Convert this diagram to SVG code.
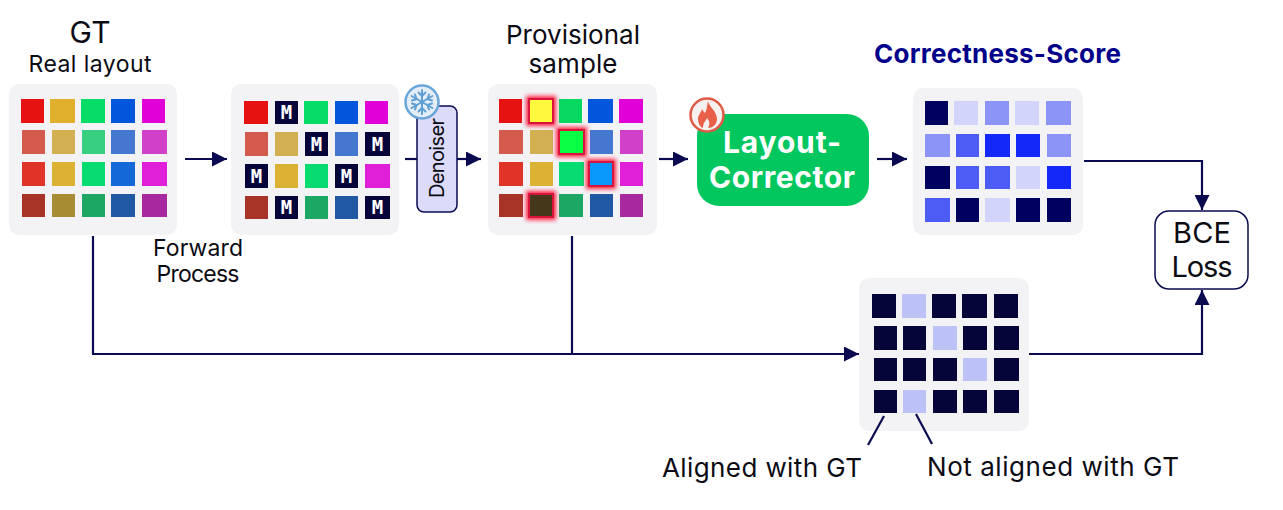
<svg xmlns="http://www.w3.org/2000/svg" width="1283" height="510" viewBox="0 0 1283 510">
<style>
text{font-family:"Inter","Noto Sans",sans-serif;fill:#0b0b14;text-anchor:middle}
.t22{font-size:23px}.t30{font-size:30px}.t28{font-size:29px}.t26{font-size:26px}
.panel{fill:#f3f3f6}
.a1{fill:#e61212}.a2{fill:#e0b02c}.a3{fill:#06dc66}.a4{fill:#0256dc}.a5{fill:#e000d8}
.b1{fill:#d45a4e}.b2{fill:#d2b052}.b3{fill:#38d080}.b4{fill:#4478d0}.b5{fill:#d040c8}
.c1{fill:#e03428}.c2{fill:#dcb234}.c3{fill:#06dc70}.c4{fill:#1468d8}.c5{fill:#e020d8}
.d1{fill:#a83428}.d2{fill:#a88c34}.d3{fill:#1ca864}.d4{fill:#2058a4}.d5{fill:#a828a0}
.m{fill:#05053a}.mt{font-family:"DejaVu Sans Mono","Liberation Mono",monospace;font-weight:700;font-size:19px;fill:#fff}
.s0{fill:#00005f}.s1{fill:#d2d4fc}.s2{fill:#8c94f8}.s3{fill:#4c5cf4}.s4{fill:#1428fa}
.g0{fill:#05053a}.g1{fill:#bcc2f6}
.wire{fill:none;stroke:#0a0a50;stroke-width:2.2}
.glow{fill:#ff2040;filter:url(#blur)}
.hl{stroke:#d8143c;stroke-width:2}
.lc{font-size:30px;font-weight:700;fill:#fff}
</style>
<defs>
<filter id="blur" x="-30%" y="-30%" width="160%" height="160%"><feGaussianBlur stdDeviation="2"/></filter>
<marker id="arrow" viewBox="0 0 15 15" refX="15" refY="7.5" markerWidth="15" markerHeight="15" markerUnits="userSpaceOnUse" orient="auto"><path d="M0 0L15 7.5L0 15Z" fill="#0a0a50"/></marker>
</defs>

<g id="gt-labels">
<text class="t30" x="90" y="43" textLength="41">GT</text>
<text class="t22" x="90" y="72" textLength="123">Real layout</text>
</g>
<g id="gt">
<rect class="panel" x="9" y="84" width="168" height="151" rx="10"/>
<rect class="a1" x="21" y="99" width="23" height="24"/><rect class="a2" x="50" y="99" width="25" height="24"/><rect class="a3" x="81" y="99" width="24" height="24"/><rect class="a4" x="111" y="99" width="24" height="24"/><rect class="a5" x="142" y="99" width="23" height="24"/>
<rect class="b1" x="22" y="130" width="23" height="24"/><rect class="b2" x="52" y="130" width="23" height="24"/><rect class="b3" x="82" y="130" width="23" height="24"/><rect class="b4" x="111" y="130" width="24" height="24"/><rect class="b5" x="142" y="130" width="25" height="24"/>
<rect class="c1" x="22" y="162" width="23" height="24"/><rect class="c2" x="52" y="162" width="23" height="24"/><rect class="c3" x="82" y="162" width="23" height="24"/><rect class="c4" x="111" y="162" width="24" height="24"/><rect class="c5" x="142" y="162" width="25" height="24"/>
<rect class="d1" x="22" y="194" width="23" height="23"/><rect class="d2" x="52" y="194" width="23" height="23"/><rect class="d3" x="82" y="194" width="23" height="23"/><rect class="d4" x="111" y="194" width="24" height="23"/><rect class="d5" x="142" y="194" width="25" height="23"/>
</g>

<g id="masked">
<rect class="panel" x="231" y="84" width="168" height="151" rx="10"/>
<rect class="a1" x="244" y="101" width="24" height="23"/><rect class="m" x="275" y="101" width="23" height="23"/><rect class="a3" x="304" y="101" width="24" height="23"/><rect class="a4" x="335" y="101" width="23" height="23"/><rect class="a5" x="365" y="101" width="23" height="23"/>
<rect class="b1" x="245" y="132" width="23" height="24"/><rect class="b2" x="275" y="132" width="23" height="24"/><rect class="m" x="305" y="132" width="23" height="24"/><rect class="b4" x="335" y="132" width="23" height="24"/><rect class="m" x="365" y="132" width="25" height="24"/>
<rect class="m" x="245" y="164" width="23" height="24"/><rect class="c2" x="275" y="164" width="23" height="24"/><rect class="c3" x="305" y="164" width="23" height="24"/><rect class="m" x="335" y="164" width="23" height="24"/><rect class="c5" x="365" y="164" width="25" height="24"/>
<rect class="d1" x="245" y="196" width="23" height="23"/><rect class="m" x="275" y="196" width="23" height="23"/><rect class="d3" x="305" y="196" width="23" height="23"/><rect class="d4" x="335" y="196" width="23" height="23"/><rect class="m" x="365" y="196" width="25" height="23"/>
<text class="mt" x="286.5" y="119">M</text>
<text class="mt" x="316.5" y="151">M</text><text class="mt" x="377.5" y="151">M</text>
<text class="mt" x="256.500" y="183">M</text><text class="mt" x="346.500" y="183">M</text>
<text class="mt" x="286.5" y="214">M</text><text class="mt" x="377.5" y="214">M</text>
</g>
<g id="forward-label">
<text class="t22" x="198" y="256" textLength="90">Forward</text>
<text class="t22" x="198" y="282" textLength="83">Process</text>
</g>

<g id="denoiser">
<rect x="417" y="106" width="40" height="106" rx="7" fill="#dcdcfa" stroke="#0a0a50" stroke-width="1.5"/>
<text transform="translate(444 158) rotate(-90)" x="0" y="0" font-size="20" textLength="80">Denoiser</text>
<circle cx="422" cy="102" r="16.500" fill="#e4eef8" stroke="#6aa6d8" stroke-width="2.500"/>
<g stroke="#5f9fd4" stroke-width="2" fill="none" stroke-linecap="round">
<path d="M422 90V114M411.600 96L432.400 108M411.600 108L432.400 96"/>
<path d="M418.500 92.500L422 96L425.500 92.500M418.500 111.500L422 108L425.500 111.500M412 100.500L416.500 99L415 94.500M432 103.500L427.500 105L429 109.500M412 103.500L416.500 105L415 109.500M432 100.500L427.500 99L429 94.500"/>
</g>
</g>

<g id="provisional-label">
<text class="t26" x="573" y="44" textLength="134">Provisional</text>
<text class="t26" x="573" y="73" textLength="89">sample</text>
</g>
<g id="provisional">
<rect class="panel" x="488" y="84" width="169" height="151" rx="10"/>
<rect class="a1" x="499" y="99" width="23" height="24"/><rect class="a3" x="559" y="99" width="23" height="24" style="fill:#06d862"/><rect class="a4" x="588" y="99" width="25" height="24"/><rect class="a5" x="619" y="99" width="24" height="24"/>
<rect class="b1" x="499" y="130" width="24" height="24"/><rect class="b2" x="530" y="130" width="23" height="24"/><rect class="b4" x="590" y="130" width="23" height="24"/><rect class="b5" x="620" y="130" width="23" height="24"/>
<rect class="c1" x="499" y="162" width="24" height="24"/><rect class="c2" x="530" y="162" width="23" height="24"/><rect class="c3" x="559" y="162" width="25" height="24"/><rect class="c5" x="620" y="162" width="23" height="24"/>
<rect class="d1" x="499" y="194" width="24" height="23"/><rect class="d3" x="559" y="194" width="24" height="23"/><rect class="d4" x="590" y="194" width="23" height="23"/><rect class="d5" x="620" y="194" width="23" height="23"/>
<rect class="glow" x="526" y="96" width="30" height="30"/><rect class="hl" x="529" y="99" width="24" height="24" fill="#fff83c"/>
<rect class="glow" x="556" y="127" width="31" height="30"/><rect class="hl" x="559" y="130" width="25" height="24" fill="#08ff44"/>
<rect class="glow" x="586" y="159" width="30" height="30"/><rect class="hl" x="589" y="162" width="24" height="24" fill="#0898fc"/>
<rect class="glow" x="526" y="191" width="30" height="29"/><rect class="hl" x="529" y="194" width="24" height="23" fill="#45381a"/>
</g>

<g id="layout-corrector">
<rect x="697" y="114" width="172" height="92" rx="22" fill="#02c75f"/>
<text class="lc" x="782" y="153" textLength="118">Layout-</text>
<text class="lc" x="782" y="188" textLength="146">Corrector</text>
<circle cx="707" cy="115" r="16.500" fill="#f6f0ee" stroke="#e05a47" stroke-width="2.500"/>
<path d="M708 101C709 107 717 111 717 119C717 125 712 128 708 128C710 125 710 121 707 118C706 121 703 122 703 128C700 127 698 123 698 119C698 115 701 113 702 109C703 111 704 112 705 113C707 110 707 105 708 101Z" fill="#e8604a"/>
</g>

<g id="score-label"><text x="997.500" y="63" font-size="26" font-weight="700" textLength="247" style="fill:#00008b">Correctness-Score</text></g>
<g id="score">
<rect class="panel" x="913" y="88" width="170" height="147" rx="10"/>
<rect class="s0" x="925" y="101" width="23" height="24"/><rect class="s1" x="954" y="101" width="24" height="24"/><rect class="s2" x="985" y="101" width="24" height="24"/><rect class="s1" x="1015" y="101" width="24" height="24"/><rect class="s2" x="1046" y="101" width="25" height="24"/>
<rect class="s2" x="925" y="134" width="25" height="23"/><rect class="s3" x="956" y="134" width="23" height="23"/><rect class="s4" x="985" y="134" width="25" height="23"/><rect class="s4" x="1016" y="134" width="24" height="23"/><rect class="s2" x="1047" y="134" width="24" height="23"/>
<rect class="s0" x="925" y="166" width="25" height="23"/><rect class="s3" x="956" y="166" width="23" height="23"/><rect class="s3" x="985" y="166" width="25" height="23"/><rect class="s1" x="1016" y="166" width="24" height="23"/><rect class="s4" x="1047" y="166" width="24" height="23"/>
<rect class="s3" x="925" y="198" width="25" height="24"/><rect class="s0" x="956" y="198" width="23" height="24"/><rect class="s1" x="985" y="198" width="25" height="24"/><rect class="s0" x="1016" y="198" width="24" height="24"/><rect class="s0" x="1047" y="198" width="24" height="24"/>
</g>

<g id="bce-loss">
<rect x="1155" y="211" width="93" height="78" rx="14" fill="#fff" stroke="#0a0a50" stroke-width="1.500"/>
<text class="t28" x="1202" y="243" textLength="58">BCE</text>
<text class="t28" x="1202" y="277" textLength="61">Loss</text>
</g>

<g id="alignment">
<rect class="panel" x="859" y="278" width="170" height="153" rx="10"/>
<rect class="g0" x="872" y="294" width="24" height="24"/><rect class="g1" x="902" y="294" width="24" height="24"/><rect class="g0" x="932" y="294" width="24" height="24"/><rect class="g0" x="962" y="294" width="25" height="24"/><rect class="g0" x="994" y="294" width="24" height="24"/>
<rect class="g0" x="874" y="326" width="23" height="24"/><rect class="g0" x="903" y="326" width="23" height="24"/><rect class="g1" x="933" y="326" width="24" height="24"/><rect class="g0" x="963" y="326" width="24" height="24"/><rect class="g0" x="994" y="326" width="25" height="24"/>
<rect class="g0" x="874" y="358" width="23" height="23"/><rect class="g0" x="903" y="358" width="23" height="23"/><rect class="g0" x="933" y="358" width="24" height="23"/><rect class="g1" x="963" y="358" width="24" height="23"/><rect class="g0" x="994" y="358" width="25" height="23"/>
<rect class="g0" x="874" y="390" width="23" height="23"/><rect class="g1" x="903" y="390" width="23" height="23"/><rect class="g0" x="933" y="390" width="24" height="23"/><rect class="g0" x="963" y="390" width="24" height="23"/><rect class="g0" x="994" y="390" width="25" height="23"/>
</g>
<g id="alignment-labels">
<text class="t26" x="762" y="477" textLength="200">Aligned with GT</text>
<text class="t26" x="1053" y="476" textLength="252">Not aligned with GT</text>
</g>

<g id="connectors">
<path class="wire" d="M185 159H227" marker-end="url(#arrow)"/>
<path class="wire" d="M405 159H417"/>
<path class="wire" d="M457 159H481" marker-end="url(#arrow)"/>
<path class="wire" d="M659 159H688" marker-end="url(#arrow)"/>
<path class="wire" d="M877 159H907" marker-end="url(#arrow)"/>
<path class="wire" d="M1084 161H1202V210" marker-end="url(#arrow)"/>
<path class="wire" d="M1029 354H1202V290" marker-end="url(#arrow)"/>
<path class="wire" d="M93 236V354H859" marker-end="url(#arrow)"/>
<path class="wire" d="M572 236V354"/>
<path class="wire" d="M884 416L868 445"/>
<path class="wire" d="M916 414L932 444"/>
</g>
</svg>
